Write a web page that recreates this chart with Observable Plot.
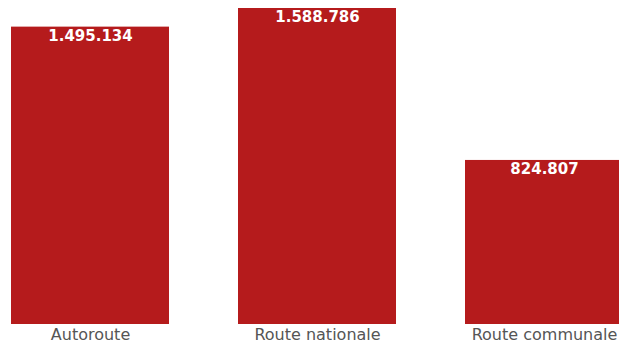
<!DOCTYPE html>
<html>
<head>
<meta charset="utf-8">
<script src="https://cdn.jsdelivr.net/npm/d3@7"></script>
<script src="https://cdn.jsdelivr.net/npm/@observablehq/plot@0.6"></script>
<style>
  html, body { margin: 0; padding: 0; background: #fff; overflow: hidden; }
</style>
</head>
<body>
<div id="chart"></div>
<script>
const categories = ["Autoroute", "Route nationale", "Route communale"];
const values = [1495134, 1588786, 824807];

const data = categories.map((c, i) => ({ category: c, value: values[i] }));
const fmt = d3.formatLocale({ decimal: ",", thousands: ".", grouping: [3], currency: ["", "€"] }).format(",d");

const chart = Plot.plot({
  width: 619,
  height: 343,
  marginTop: 8,
  marginBottom: 19,
  marginLeft: 0,
  marginRight: 0,
  style: { fontFamily: "DejaVu Sans, sans-serif", background: "#fff" },
  x: { domain: categories, range: [10, 623], paddingInner: 0.305, paddingOuter: 0, label: null },
  y: { domain: [0, d3.max(values)], axis: null },
  marks: [
    Plot.barY(data, { x: "category", y: "value", fill: "#b51b1c" }),
    Plot.text(data, {
      x: "category", y: "value", text: d => fmt(d.value),
      lineAnchor: "top", dy: 3, fill: "#fff", fontWeight: "bold", fontSize: 15
    }),
    Plot.axisX({ tickSize: 0, tickPadding: 4, fontSize: 16, fill: "#555", label: null })
  ]
});
document.getElementById("chart").appendChild(chart);
</script>
</body>
</html>
